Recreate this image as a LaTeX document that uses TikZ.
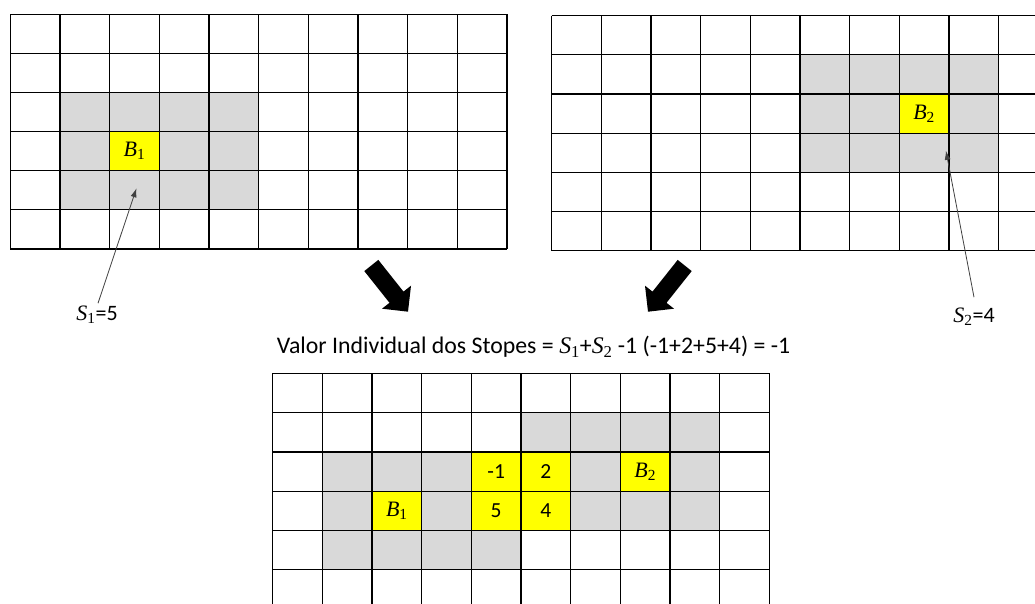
\documentclass[tikz,border=0pt]{standalone}
\usepackage{fontspec}
\setmainfont{Carlito}
\newfontfamily\varfont{Liberation Serif}
\newcommand{\svar}[2]{{\varfont\itshape #1}\textsubscript{\varfont #2}}
\usetikzlibrary{arrows.meta,calc}
\definecolor{cellgray}{HTML}{D9D9D9}
\definecolor{cellyellow}{HTML}{FFFF00}
\definecolor{pointer}{HTML}{404040}
\begin{document}
\begin{tikzpicture}[x=1pt,y=-1pt,
  gridline/.style={draw=black,line width=1.2pt},
  graycell/.style={fill=cellgray},
  yellowcell/.style={fill=cellyellow},
  celllabel/.style={font=\fontsize{22}{24}\selectfont,inner sep=0pt},
  cellnum/.style={font=\fontsize{21.5}{24}\selectfont,inner sep=0pt},
  sumlabel/.style={font=\fontsize{22}{26}\selectfont,inner sep=2pt,anchor=base},
  pointerline/.style={draw=pointer,line width=0.8pt,-{Latex[length=9pt,width=6pt]}},
  bigarrow/.style={fill=black,draw=none}]
\useasboundingbox (0,0) rectangle (1035,604);
\clip (0,0) rectangle (1035,604);

% ---------- top-left grid ----------
\begin{scope}[shift={(10.3,14.3)},x=49.67pt,y=-39.1pt]
  \fill[graycell] (1,2) rectangle (5,5);
  \fill[yellowcell] (2,3) rectangle (3,4);
  \foreach \i in {0,...,10} \draw[gridline] (\i,0) -- (\i,6);
  \foreach \j in {0,...,6} \draw[gridline] (0,\j) -- (10,\j);
  \node[celllabel] (b1) at (2.5,3.5) {\svar{B}{1}};
  \coordinate (t1) at (2.54,4.45);
\end{scope}

% ---------- top-right grid ----------
\begin{scope}[shift={(551.7,15.7)},x=49.65pt,y=-39.17pt]
  \fill[graycell] (5,1) rectangle (9,4);
  \fill[yellowcell] (7,2) rectangle (8,3);
  \foreach \i in {0,...,10} \draw[gridline] (\i,0) -- (\i,6);
  \foreach \j in {0,...,6} \draw[gridline] (0,\j) -- (10,\j);
  \node[celllabel] (b2) at (7.5,2.5) {\svar{B}{2}};
  \coordinate (t2) at (7.94,3.45);
\end{scope}

% ---------- bottom grid ----------
\begin{scope}[shift={(272.7,373.3)},x=49.66pt,y=-39.3pt]
  \fill[graycell] (5,1) rectangle (9,2);
  \fill[graycell] (1,2) rectangle (9,4);
  \fill[graycell] (1,4) rectangle (5,5);
  \fill[yellowcell] (4,2) rectangle (6,4);
  \fill[yellowcell] (7,2) rectangle (8,3);
  \fill[yellowcell] (2,3) rectangle (3,4);
  \foreach \i in {0,...,10} \draw[gridline] (\i,0) -- (\i,6);
  \foreach \j in {0,...,6} \draw[gridline] (0,\j) -- (10,\j);
  \node[cellnum] (m1) at (4.5,2.5) {-1};
  \node[cellnum] (m2) at (5.5,2.5) {2};
  \node[cellnum] (m5) at (4.5,3.5) {5};
  \node[cellnum] (m4) at (5.5,3.5) {4};
  \node[celllabel] (c2) at (7.5,2.5) {\svar{B}{2}};
  \node[celllabel] (c1) at (2.5,3.5) {\svar{B}{1}};
\end{scope}

% ---------- labels and pointers ----------
\node[sumlabel] (s1) at (97,320) {\svar{S}{1}=5};
\node[sumlabel] (s2) at (974,322) {\svar{S}{2}=4};
\draw[pointerline] ([xshift=1pt]s1.north) -- (t1);
\draw[pointerline] ([yshift=8pt]s2.north) -- (t2);

\node[font=\fontsize{23.8}{28}\selectfont,anchor=base,inner sep=0pt] (title) at (533.5,353.4)
  {Valor Individual dos Stopes = \svar{S}{1}+\svar{S}{2} -1 (-1+2+5+4) = -1};

% ---------- big block arrows ----------
\fill[bigarrow] (378.3,259.9) -- (403.5,291.6) -- (411,285.7) -- (408,311.7)
  -- (382,308.7) -- (389.5,302.8) -- (364.3,271.1) -- cycle;
\fill[bigarrow] (677.7,259.9) -- (652.5,291.6) -- (645,285.7) -- (648,311.7)
  -- (674,308.7) -- (666.5,302.8) -- (691.7,271.1) -- cycle;
\end{tikzpicture}
\end{document}
